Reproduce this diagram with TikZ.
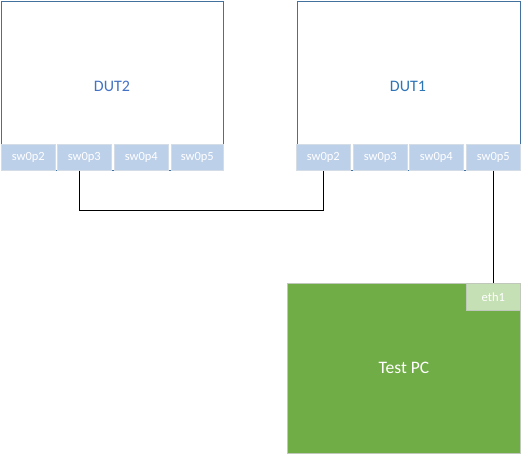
\documentclass[tikz,border=0pt]{standalone}
\usepackage{fontspec}
\setmainfont{Carlito}
\usetikzlibrary{calc}
\definecolor{dutline}{HTML}{41719C}
\definecolor{portfill}{HTML}{BDD0E9}
\definecolor{portline}{HTML}{D4DCE6}
\definecolor{pcfill}{HTML}{70AD47}
\definecolor{ethfill}{HTML}{C5E0B4}
\definecolor{pcline}{HTML}{C0C8BC}
\definecolor{dutAtext}{HTML}{4472C4}
\definecolor{dutBtext}{HTML}{2E75B6}
\begin{document}
\begin{tikzpicture}[x=1pt,y=-1pt,
  dutbox/.style={draw=dutline,line width=1pt,fill=white,rectangle,inner sep=0pt,anchor=north west},
  portbox/.style={draw=portline,line width=0.6pt,fill=portfill,rectangle,inner sep=0pt,anchor=north west,
     minimum height=26pt,minimum width=54pt,text=white,font=\fontsize{12.5}{14}\selectfont},
  pcbox/.style={draw=pcline,line width=1pt,fill=pcfill,rectangle,inner sep=0pt,anchor=north west,
     minimum width=233pt,minimum height=170pt},
  ethbox/.style={draw=pcline,line width=0.6pt,fill=ethfill,rectangle,inner sep=0pt,anchor=north west,
     minimum width=54pt,minimum height=27pt,text=white,font=\fontsize{12.5}{14}\selectfont},
  wire/.style={draw=black,line width=0.9pt}]
\useasboundingbox (0,0) rectangle (522,454);
% DUT2
\node[dutbox,minimum width=222pt,minimum height=169pt] (dut2) at (1,1) {};
\node[text=dutAtext,font=\fontsize{16}{18}\selectfont] (dut2lbl) at (112,86) {DUT2};
\node[portbox] (d2p2) at (1,144) {sw0p2};
\node[portbox] (d2p3) at (57,144) {sw0p3};
\node[portbox] (d2p4) at (114,144) {sw0p4};
\node[portbox,minimum width=52pt] (d2p5) at (171,144) {sw0p5};
% DUT1
\node[dutbox,minimum width=223pt,minimum height=169pt] (dut1) at (297,1) {};
\node[text=dutBtext,font=\fontsize{16}{18}\selectfont] (dut1lbl) at (408,86) {DUT1};
\node[portbox] (d1p2) at (296,144) {sw0p2};
\node[portbox] (d1p3) at (353,144) {sw0p3};
\node[portbox] (d1p4) at (409,144) {sw0p4};
\node[portbox] (d1p5) at (466,144) {sw0p5};
% Test PC
\node[pcbox] (pc) at (287,283) {};
\node[text=white,font=\fontsize{17.5}{20}\selectfont] (pclbl) at (404,368) {Test PC};
\node[ethbox] (eth1) at (466,283) {eth1};
% wires
\coordinate (start) at ($(d2p3.south)+(-5,0)$);
\coordinate (bend) at (d1p2.south |- 0,210);
\draw[wire] (start) |- (bend) -- (d1p2.south);
\draw[wire] (d1p5.south) -- (d1p5.south |- eth1.north);
\end{tikzpicture}
\end{document}
